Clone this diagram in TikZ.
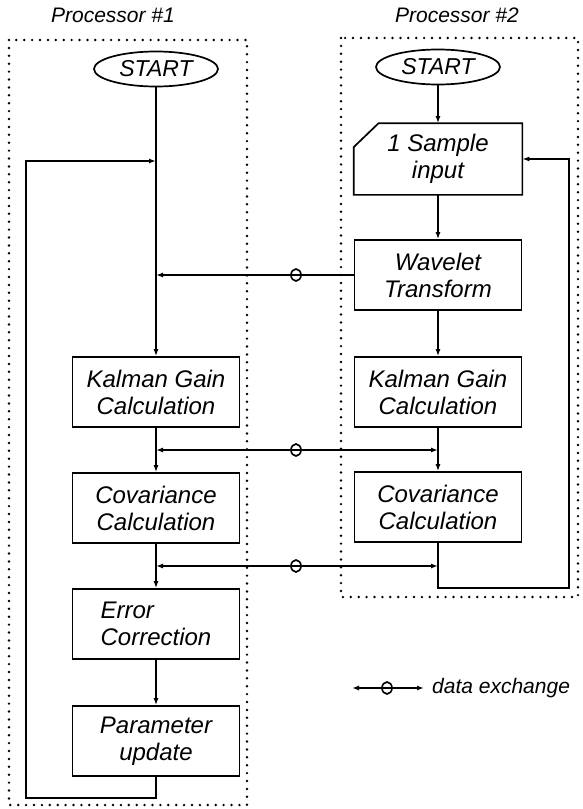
\documentclass[tikz,border=0pt]{standalone}
\usepackage{fontspec}
\setmainfont{Liberation Sans}
\usetikzlibrary{shapes.geometric,arrows.meta}
\begin{document}
\begin{tikzpicture}[x=1pt,y=-1pt,
 box/.style={draw,line width=1.7pt,minimum width=167pt,minimum height=70pt,inner sep=0pt,align=center,font=\fontsize{24}{27}\selectfont\itshape},
 startnode/.style={draw,ellipse,line width=1.7pt,minimum width=124pt,minimum height=35pt,inner sep=0pt,font=\fontsize{23}{27}\selectfont\itshape},
 conn/.style={line width=1.6pt},
 arr/.style={conn,-{Latex[length=7pt,width=5pt]}},
 dbl/.style={conn,{Latex[length=7pt,width=5pt]}-{Latex[length=7pt,width=5pt]}},
 dx/.style={draw,ellipse,line width=1.6pt,minimum width=10pt,minimum height=12pt,inner sep=0pt},
 frame/.style={line width=2.7pt,dash pattern=on 0pt off 7.9pt,line cap=round},
 title/.style={font=\fontsize{21}{24}\selectfont\itshape}]
\useasboundingbox (0,0) rectangle (583,809);

\node[title] (t1) at (113,15) {Processor \#1};
\node[title] (t2) at (457,15) {Processor \#2};
\draw[frame] (9,40) rectangle (247,805);
\draw[frame] (341,38) rectangle (578,597);

% column 1
\node[startnode] (s1) at (156,69) {START};
\node[box] (kg1) at (156,392) {Kalman Gain\\Calculation};
\node[box] (cov1) at (156,508) {Covariance\\Calculation};
\node[box,align=left] (err) at (156,624) {Error\\Correction};
\node[box] (par) at (156,741) {Parameter\\update};

% column 2
\node[startnode] (s2) at (438,67) {START};
\node[box,draw=none] (smp) at (438,159) {1 Sample\\input};
\draw[line width=1.7pt] ([yshift=-24pt]smp.north west) -- ([xshift=25pt]smp.north west) -- (smp.north east) -- (smp.south east) -- (smp.south west) -- cycle;
\node[box] (wav) at (438,275) {Wavelet\\Transform};
\node[box] (kg2) at (438,392) {Kalman Gain\\Calculation};
\node[box] (cov2) at (438,507) {Covariance\\Calculation};

% column 1 flow
\draw[arr] (s1) -- (kg1);
\draw[arr] (kg1) -- (cov1);
\draw[arr] (cov1) -- (err);
\draw[arr] (err) -- (par);
\coordinate (lb) at (26,798);
\coordinate (lt) at (26,161);
\draw[arr] (par.south) |- (lb) -- (lt) -- (lt -| kg1.north);

% column 2 flow
\draw[arr] (s2) -- (smp);
\draw[arr] (smp) -- (wav);
\draw[arr] (wav) -- (kg2);
\draw[arr] (kg2) -- (cov2);
\coordinate (rb) at (569,588);
\coordinate (rt) at (569,159);
\draw[arr] (cov2.south) |- (rb) -- (rt) -- (smp.east);

% data exchange
\draw[arr] (wav.west) -- (wav.west -| kg1.north);
\node[dx] (c1) at (296,275) {};
\coordinate (d2a) at (156,450);
\coordinate (d2b) at (438,450);
\draw[dbl] (d2a) -- (d2b);
\node[dx] (c2) at (296,450) {};
\coordinate (d3a) at (156,566);
\coordinate (d3b) at (438,566);
\draw[dbl] (d3a) -- (d3b);
\node[dx] (c3) at (296,566) {};

% legend
\coordinate (la) at (352,688);
\coordinate (lr) at (424,688);
\draw[dbl] (la) -- (lr);
\node[dx] (c4) at (387,688) {};
\node[title,anchor=west,inner sep=0pt] (leg) at (432,688) {data exchange};
\end{tikzpicture}
\end{document}
